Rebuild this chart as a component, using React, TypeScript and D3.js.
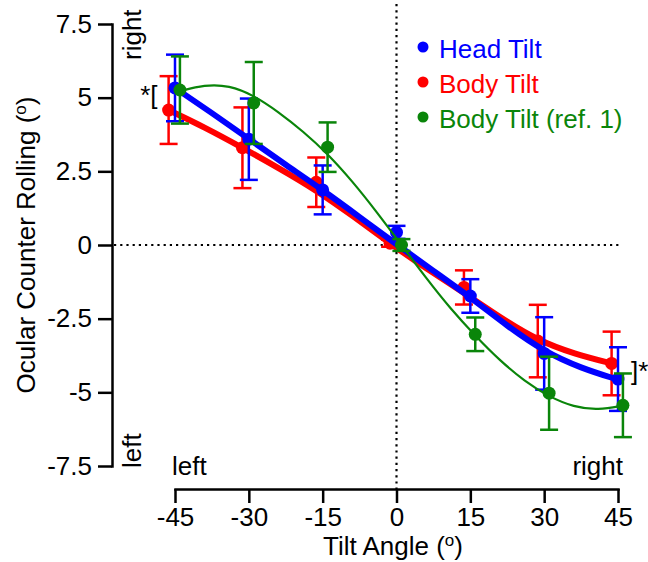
import React, { useEffect, useRef } from "react";
import * as d3 from "d3";

// measured tilt angles (nominal), error bars are +/- SEM
const angles = [-45, -30, -15, 0, 15, 30, 45];

const headTilt = [5.33, 3.59, 1.87, 0.43, -1.73, -3.68, -4.55];
const headTiltErr = [1.13, 1.38, 0.83, 0.22, 0.57, 1.23, 1.08];

const bodyTilt = [4.58, 3.3, 2.13, 0.06, -1.44, -3.26, -4.02];
const bodyTiltErr = [1.15, 1.37, 0.84, 0.12, 0.58, 1.23, 1.08];

const refTilt = [5.26, 4.82, 3.32, 0.0, -3.03, -5.03, -5.44];
const refTiltErr = [1.14, 1.39, 0.84, 0.2, 0.57, 1.24, 1.08];

// fitted curves
const fitAngles = [-45, -37.5, -30, -22.5, -15, -7.5, 0, 7.5, 15, 22.5, 30, 37.5, 45];
const headTiltFit = [5.33, 4.48, 3.6, 2.72, 1.87, 0.95, 0.02, -0.88, -1.77, -2.75, -3.62, -4.18, -4.57];
const bodyTiltFit = [4.58, 3.98, 3.3, 2.6, 1.86, 0.98, 0.05, -0.82, -1.62, -2.48, -3.24, -3.7, -4.02];

const refFitAngles = [-45, -40, -35, -30, -25, -20, -15, -10, -5, 0, 5, 10, 15, 20, 25, 30, 35, 40, 45];
const refFit = [5.22, 5.44, 5.42, 5.08, 4.52, 3.86, 3.1, 2.17, 1.12, 0.0, -1.12, -2.17, -3.08, -3.92, -4.62, -5.15, -5.5, -5.6, -5.45];

const xTicks = [-45, -30, -15, 0, 15, 30, 45];
const xTickLabels = ["-45", "-30", "-15", "0", "15", "30", "45"];
const yTicks = [7.5, 5, 2.5, 0, -2.5, -5, -7.5];
const yTickLabels = ["7.5", "5", "2.5", "0", "-2.5", "-5", "-7.5"];

const FONT = "'Liberation Sans', Arial, Helvetica, sans-serif";

export default function App() {
  const ref = useRef<SVGSVGElement>(null);

  useEffect(() => {
    const svg = d3.select(ref.current);
    svg.selectAll("*").remove();

    const width = 648;
    const height = 562;
    const yAxisX = 112;
    const xAxisY = 489;

    const x = d3.scaleLinear().domain([-45, 45]).range([175, 618]);
    const y = d3.scaleLinear().domain([-7.5, 7.5]).range([466, 24]);

    svg.attr("width", width).attr("height", height);

    // zero reference lines
    svg
      .append("line")
      .attr("x1", yAxisX + 2)
      .attr("x2", x(45) + 4)
      .attr("y1", y(0))
      .attr("y2", y(0))
      .attr("stroke", "#000")
      .attr("stroke-width", 2.2)
      .attr("stroke-dasharray", "2.2 4");
    svg
      .append("line")
      .attr("x1", x(0))
      .attr("x2", x(0))
      .attr("y1", 4)
      .attr("y2", xAxisY)
      .attr("stroke", "#000")
      .attr("stroke-width", 2.2)
      .attr("stroke-dasharray", "2.2 4");

    // axes
    const yAxis = svg
      .append("g")
      .attr("transform", `translate(${yAxisX},0)`)
      .call(
        d3
          .axisLeft(y)
          .tickValues(yTicks)
          .tickSize(14)
          .tickSizeOuter(0)
          .tickPadding(6)
          .tickFormat((d, i) => yTickLabels[i])
      );
    const xAxis = svg
      .append("g")
      .attr("transform", `translate(0,${xAxisY})`)
      .call(
        d3
          .axisBottom(x)
          .tickValues(xTicks)
          .tickSize(14)
          .tickSizeOuter(0)
          .tickPadding(5)
          .tickFormat((d, i) => xTickLabels[i])
      );
    [yAxis, xAxis].forEach((ax) => {
      ax.attr("font-family", FONT).attr("font-size", 26);
      ax.select(".domain").attr("stroke-width", 2.5).attr("stroke-linecap", "square");
      ax.selectAll(".tick line").attr("stroke-width", 2.5);
      ax.selectAll(".tick text").attr("fill", "#000");
    });

    // axis titles, the degree mark is a raised small "o"
    const title = (label, transform) => {
      const t = svg
        .append("text")
        .attr("transform", transform)
        .attr("text-anchor", "middle")
        .attr("font-family", FONT)
        .attr("font-size", 26);
      t.append("tspan").text(label + " (");
      t.append("tspan").attr("font-size", 17).attr("dy", -9).text("o");
      t.append("tspan").attr("dy", 9).text(")");
    };
    title("Ocular Counter Rolling", `translate(35,${y(0)}) rotate(-90)`);
    title("Tilt Angle", "translate(393,555)");

    // direction hints
    const hint = (txt, tx, ty, rot, anchor) =>
      svg
        .append("text")
        .attr("transform", `translate(${tx},${ty}) rotate(${rot})`)
        .attr("text-anchor", anchor)
        .attr("font-family", FONT)
        .attr("font-size", 26)
        .text(txt);
    hint("right", 141, 60, -90, "start");
    hint("left", 141, 468, -90, "start");
    hint("left", 172, 475, 0, "start");
    hint("right", 623, 475, 0, "end");

    const series = [
      { name: "Body Tilt", values: bodyTilt, errors: bodyTiltErr, fitX: fitAngles, fit: bodyTiltFit, color: "#ff0000", dx: -1.3, lw: 6 },
      { name: "Head Tilt", values: headTilt, errors: headTiltErr, fitX: fitAngles, fit: headTiltFit, color: "#0000ff", dx: 0, lw: 6 },
      { name: "Body Tilt (ref. 1)", values: refTilt, errors: refTiltErr, fitX: refFitAngles, fit: refFit, color: "#0a850a", dx: 1, lw: 2.2 },
    ];

    const line = d3.line<number>().curve(d3.curveBasis);

    series.forEach((s) => {
      const g = svg.append("g");
      g.append("path")
        .attr(
          "d",
          line.x((d, i) => x(s.fitX[i] + s.dx)).y((d) => y(d))(s.fit)
        )
        .attr("fill", "none")
        .attr("stroke", s.color)
        .attr("stroke-width", s.lw)
        .attr("stroke-linecap", "round");

      const pts = angles.map((a, i) => ({ a: a + s.dx, v: s.values[i], e: s.errors[i] }));
      const bars = g.selectAll(".err").data(pts).enter().append("g");
      bars
        .append("line")
        .attr("x1", (d) => x(d.a))
        .attr("x2", (d) => x(d.a))
        .attr("y1", (d) => y(d.v + d.e))
        .attr("y2", (d) => y(d.v - d.e));
      bars
        .append("line")
        .attr("x1", (d) => x(d.a) - 9)
        .attr("x2", (d) => x(d.a) + 9)
        .attr("y1", (d) => y(d.v + d.e))
        .attr("y2", (d) => y(d.v + d.e));
      bars
        .append("line")
        .attr("x1", (d) => x(d.a) - 9)
        .attr("x2", (d) => x(d.a) + 9)
        .attr("y1", (d) => y(d.v - d.e))
        .attr("y2", (d) => y(d.v - d.e));
      bars.selectAll("line").attr("stroke", s.color).attr("stroke-width", 2.5);

      g.selectAll(".dot")
        .data(pts)
        .enter()
        .append("circle")
        .attr("cx", (d) => x(d.a))
        .attr("cy", (d) => y(d.v))
        .attr("r", 6.5)
        .attr("fill", s.color);
    });

    // significance markers
    svg
      .append("text")
      .attr("x", x(-45 - 1.3) - 11)
      .attr("y", y(bodyTilt[0]) - 6)
      .attr("text-anchor", "end")
      .attr("font-family", FONT)
      .attr("font-size", 26)
      .text("*[");
    svg
      .append("text")
      .attr("x", x(45 + 1) + 8)
      .attr("y", y(headTilt[6]) + 1)
      .attr("text-anchor", "start")
      .attr("font-family", FONT)
      .attr("font-size", 26)
      .text("]*");

    // legend
    const legendOrder = [series[1], series[0], series[2]];
    const legend = svg
      .append("g")
      .attr("transform", "translate(423,47)");
    const items = legend
      .selectAll(".legend-item")
      .data(legendOrder)
      .enter()
      .append("g")
      .attr("transform", (d, i) => `translate(0,${i * 35})`);
    items.append("circle").attr("r", 5.5).attr("fill", (d) => d.color);
    items
      .append("text")
      .attr("x", 16)
      .attr("y", 10.5)
      .attr("font-family", FONT)
      .attr("font-size", 26)
      .attr("fill", (d) => d.color)
      .text((d) => d.name);
  }, []);

  return (
    <div style={{ position: "absolute", left: 0, top: 0 }}>
      <svg ref={ref} style={{ display: "block", background: "#fff" }} />
    </div>
  );
}
